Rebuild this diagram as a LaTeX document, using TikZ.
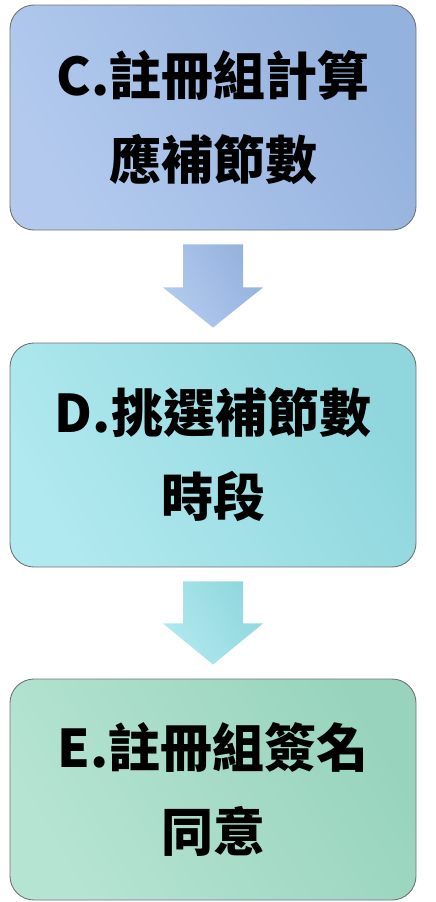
\documentclass[tikz,border=0pt]{standalone}
\usepackage{fontspec}
\newfontfamily\cjk{Noto Sans CJK TC}
\usetikzlibrary{calc}
\definecolor{c1a}{HTML}{B3CAEE}
\definecolor{c1b}{HTML}{94B2DE}
\definecolor{c2a}{HTML}{B0E9EF}
\definecolor{c2b}{HTML}{8FD7DD}
\definecolor{c3a}{HTML}{B5E4D2}
\definecolor{c3b}{HTML}{98D4BD}
\tikzset{
  stepbox/.style={rectangle, rounded corners=24pt, draw=black!55, line width=0.9pt,
    minimum width=406pt, inner sep=0pt, align=center,
    font=\cjk\bfseries\fontsize{52}{86}\selectfont, text=black},
  blockarrow/.style={draw=none}
}
\begin{document}
\begin{tikzpicture}[x=1pt,y=-1pt]
\useasboundingbox (0,0) rectangle (436,902);
\node[stepbox, minimum height=225pt, left color=c1a, right color=c1b, shading angle=120] (b1) at (213,117.5) {C.註冊組計算\\[-2pt]應補節數};
\node[stepbox, minimum height=224pt, left color=c2a, right color=c2b, shading angle=120] (b2) at (213,455) {D.挑選補節數\\[-2pt]時段};
\node[stepbox, minimum height=221pt, left color=c3a, right color=c3b, shading angle=120] (b3) at (213,789.5) {E.註冊組簽名\\[-2pt]同意};
\path[blockarrow, left color=c1a, right color=c1b, shading angle=120]
  ($(b1.south)+(-30,14)$) -- ($(b1.south)+(30,14)$) -- ($(b1.south)+(30,57)$)
  -- ($(b1.south)+(50,57)$) -- ($(b2.north)+(0,-15)$) -- ($(b1.south)+(-50,57)$)
  -- ($(b1.south)+(-30,57)$) -- cycle;
\path[blockarrow, left color=c2a, right color=c2b, shading angle=120]
  ($(b2.south)+(-30,14)$) -- ($(b2.south)+(30,14)$) -- ($(b2.south)+(30,56)$)
  -- ($(b2.south)+(50,56)$) -- ($(b3.north)+(0,-14)$) -- ($(b2.south)+(-50,56)$)
  -- ($(b2.south)+(-30,56)$) -- cycle;
\end{tikzpicture}
\end{document}
